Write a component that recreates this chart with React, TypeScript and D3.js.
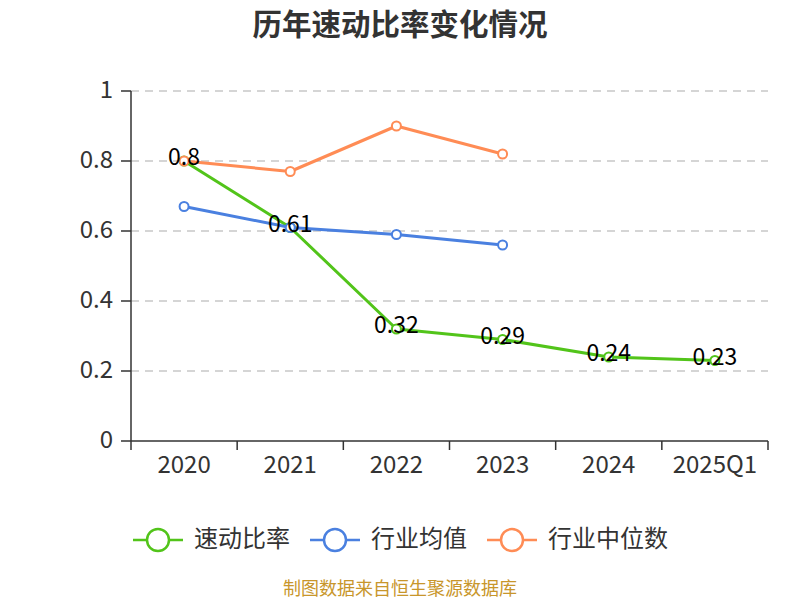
import React from 'react';
import * as d3 from 'd3';

const CATEGORIES = ['2020', '2021', '2022', '2023', '2024', '2025Q1'];
const QUICK_RATIO = [0.8, 0.61, 0.32, 0.29, 0.24, 0.23];
const INDUSTRY_AVG = [0.67, 0.61, 0.59, 0.56];
const INDUSTRY_MEDIAN = [0.8, 0.77, 0.9, 0.82];
const Y_TICKS = [0, 0.2, 0.4, 0.6, 0.8, 1];

const SERIES = [
  { name: '速动比率', values: QUICK_RATIO, color: '#52c41a' },
  { name: '行业均值', values: INDUSTRY_AVG, color: '#4a80e0' },
  { name: '行业中位数', values: INDUSTRY_MEDIAN, color: '#ff8c55' },
];

const W = 800;
const H = 600;
const LEFT = 131;
const RIGHT = 768;
const TOP = 91;
const BOTTOM = 441;
const FONT = '"Noto Sans CJK SC", "Noto Sans", sans-serif';

export default function App() {
  const x = d3.scaleBand<string>().domain(CATEGORIES).range([LEFT, RIGHT]);
  const y = d3.scaleLinear().domain([0, 1]).range([BOTTOM, TOP]);
  const cx = (c: string) => (x(c) ?? 0) + x.bandwidth() / 2;

  const line = d3.line<number>()
    .x((_, i) => cx(CATEGORIES[i]))
    .y((d) => y(d));

  const boundaries = CATEGORIES.map((c) => x(c) ?? 0).concat([RIGHT]);

  // legend item starts (line left end)
  const legendX = [133, 310, 487];

  return (
    <svg width={W} height={H} style={{ position: 'absolute', left: 0, top: 0 }} fontFamily={FONT}>
      <rect width={W} height={H} fill="#fff" />
      <text x={400} y={35} textAnchor="middle" fontSize={29.5} fontWeight="bold" fill="#333">
        历年速动比率变化情况
      </text>

      {Y_TICKS.map((t) => (
        <g key={t}>
          {t > 0 && (
            <line x1={LEFT} x2={RIGHT} y1={y(t)} y2={y(t)} stroke="#c8c8c8" strokeDasharray="8,6" strokeWidth={1.5} />
          )}
          <line x1={LEFT - 10} x2={LEFT} y1={y(t)} y2={y(t)} stroke="#333" strokeWidth={1.5} />
          <text x={LEFT - 18} y={y(t)} textAnchor="end" dominantBaseline="middle" fontSize={24} fill="#333">
            {t}
          </text>
        </g>
      ))}

      <line x1={LEFT} x2={LEFT} y1={TOP} y2={BOTTOM} stroke="#333" strokeWidth={1.5} />
      <line x1={LEFT} x2={RIGHT} y1={BOTTOM} y2={BOTTOM} stroke="#333" strokeWidth={1.5} />
      {boundaries.map((b, i) => (
        <line key={i} x1={b} x2={b} y1={BOTTOM} y2={BOTTOM + 9} stroke="#333" strokeWidth={1.5} />
      ))}
      {CATEGORIES.map((c) => (
        <text key={c} x={cx(c)} y={BOTTOM + 25} textAnchor="middle" dominantBaseline="middle" fontSize={24} fill="#333">
          {c}
        </text>
      ))}

      {SERIES.map((s) => (
        <g key={s.name}>
          <path d={line(s.values) ?? ''} fill="none" stroke={s.color} strokeWidth={3} strokeLinejoin="round" />
          {s.values.map((v, i) => (
            <circle key={i} cx={cx(CATEGORIES[i])} cy={y(v)} r={4.5} fill="#fff" stroke={s.color} strokeWidth={2} />
          ))}
        </g>
      ))}

      {QUICK_RATIO.map((v, i) => (
        <text key={i} x={cx(CATEGORIES[i])} y={y(v) - 2} textAnchor="middle" dominantBaseline="middle" fontSize={23} fill="#000">
          {v}
        </text>
      ))}

      {SERIES.map((s, i) => (
        <g key={s.name} transform={`translate(${legendX[i]},540)`}>
          <line x1={0} x2={50} y1={0} y2={0} stroke={s.color} strokeWidth={2.5} />
          <circle cx={25} cy={0} r={11} fill="#fff" stroke={s.color} strokeWidth={2.5} />
          <text x={61} y={0} dominantBaseline="middle" fontSize={24} fill="#333">
            {s.name}
          </text>
        </g>
      ))}

      <text x={400} y={590} textAnchor="middle" dominantBaseline="middle" fontSize={18} fill="#c8962b">
        制图数据来自恒生聚源数据库
      </text>
    </svg>
  );
}
